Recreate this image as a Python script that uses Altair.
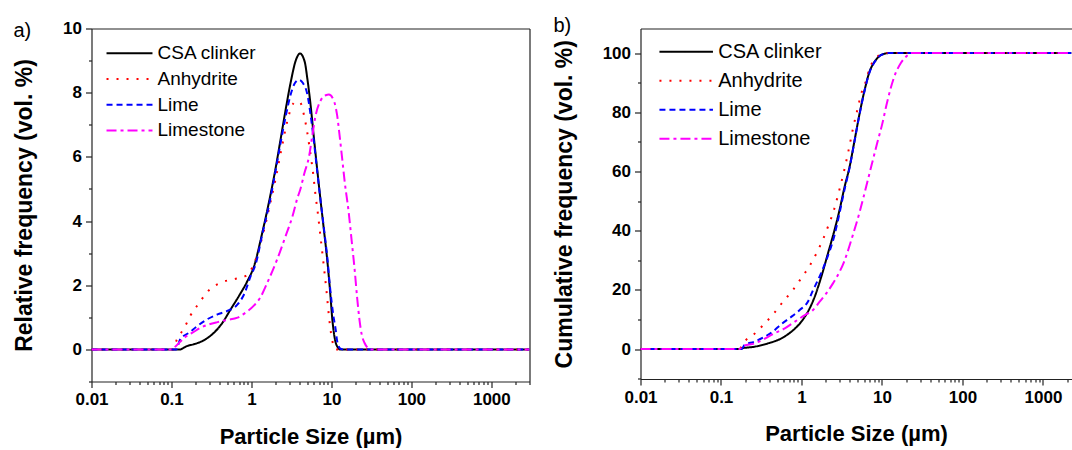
import altair as alt
import pandas as pd

FONT = "Liberation Sans"
AXIS_COLOR = "#222222"

series_names = ["CSA clinker", "Anhydrite", "Lime", "Limestone"]
series_colors = ["#000000", "#ff0000", "#0000ff", "#ff00ff"]
series_dashes = [[1, 0], [2, 8], [6, 4], [10, 4, 3, 4]]
panel_labels = ["a)", "b)"]

x_major = [0.01, 0.1, 1, 10, 100, 1000]

# ---------------- (a) relative frequency ----------------
rel_csa_size = [0.01, 0.13, 0.137, 0.155, 0.19, 0.256, 0.34, 0.434, 0.55, 0.70, 0.89, 1.08, 1.37, 1.66,
                2.0, 2.32, 2.69, 3.1, 3.58, 4.05, 4.64, 5.0, 5.5, 6.06, 6.68, 7.35, 8.08, 8.9, 9.6,
                10.3, 11.0, 12.1, 12.7, 3000]
rel_csa_val = [0, 0, 0.03, 0.1, 0.16, 0.29, 0.52, 0.83, 1.25, 1.67, 2.13, 2.6, 3.65, 4.6,
               5.63, 6.56, 7.5, 8.33, 9.0, 9.22, 8.96, 8.44, 7.6, 6.56, 5.55, 4.6, 3.7, 2.75, 1.85,
               0.9, 0.35, 0.05, 0, 0]

rel_anh_size = [0.01, 0.105, 0.116, 0.144, 0.174, 0.221, 0.28, 0.413, 0.606, 0.85, 1.1, 1.4, 1.7,
                2.0, 2.4, 2.82, 3.16, 3.6, 4.05, 4.54, 5.0, 5.5, 5.9, 6.3, 6.8, 7.2, 7.9, 8.7, 9.4,
                9.9, 10.5, 11.2, 3000]
rel_anh_val = [0, 0, 0.29, 0.66, 1.07, 1.44, 1.79, 2.08, 2.19, 2.29, 2.73, 3.6, 4.5,
               5.3, 6.3, 7.13, 7.55, 7.72, 7.7, 7.3, 6.75, 6.05, 5.5, 4.85, 4.2, 3.65, 2.76, 1.8, 0.94,
               0.5, 0.16, 0, 0]

rel_lime_size = [0.01, 0.115, 0.128, 0.166, 0.211, 0.28, 0.376, 0.5, 0.67, 0.81, 0.98, 1.13, 1.37,
                 1.66, 2.0, 2.32, 2.7, 3.1, 3.5, 3.94, 4.4, 5.0, 5.5, 6.06, 6.68, 7.35, 8.08, 8.9,
                 9.6, 10.6, 11.3, 11.8, 13.0, 14.0, 3000]
rel_lime_val = [0, 0, 0.31, 0.52, 0.73, 0.94, 1.09, 1.2, 1.4, 1.72, 2.29, 2.66, 3.6,
                4.5, 5.55, 6.45, 7.3, 7.95, 8.3, 8.4, 8.3, 7.95, 7.3, 6.45, 5.5, 4.6, 3.75, 2.85,
                1.95, 1.04, 0.62, 0.26, 0.02, 0, 0]

rel_lst_size = [0.01, 0.1, 0.113, 0.144, 0.183, 0.233, 0.296, 0.376, 0.5, 0.67, 0.85, 1.08, 1.28,
                1.58, 2.1, 2.68, 3.28, 3.73, 4.1, 4.6, 5.24, 5.8, 6.3, 7.35, 8.5, 9.3, 10.7, 11.8,
                12.8, 13.7, 14.7, 16.4, 17.9, 19.5, 21.0, 22.5, 24.0, 26.0, 29.0, 31.0, 3000]
rel_lst_val = [0, 0, 0.1, 0.36, 0.52, 0.68, 0.78, 0.85, 0.92, 0.99, 1.15, 1.37, 1.6,
               2.08, 2.81, 3.54, 4.17, 4.69, 5.0, 5.5, 6.0, 6.7, 7.25, 7.76, 7.92, 7.94, 7.76, 7.29,
               6.56, 5.9, 5.2, 4.3, 3.4, 2.5, 1.6, 0.9, 0.45, 0.2, 0.03, 0, 0]

# ---------------- (b) cumulative frequency ----------------
cum_csa_size = [0.01, 0.17, 0.179, 0.26, 0.38, 0.56, 0.75, 0.99, 1.2, 1.46, 1.76, 2.13, 2.57, 2.97,
                3.43, 3.96, 4.57, 5.27, 6.08, 7.0, 8.1, 9.33, 11.3, 12.0, 2260]
cum_csa_val = [0, 0, 0.2, 0.8, 1.9, 3.6, 5.9, 9.2, 12.6, 17.7, 24.4, 32.3, 40.2, 47,
               54.8, 61.6, 70.6, 79.6, 87.5, 93.7, 97.1, 99.0, 99.9, 100, 100]

cum_anh_size = [0.01, 0.17, 0.187, 0.257, 0.342, 0.456, 0.589, 0.78, 0.99, 1.26, 1.57, 1.85, 2.17,
                2.53, 2.84, 3.3, 3.85, 4.4, 4.93, 5.54, 6.38, 7.0, 8.4, 10.0, 11.0, 2260]
cum_anh_val = [0, 0, 1.9, 5.0, 8.4, 12.1, 16, 19.9, 23.9, 28.1, 32.9, 37.1, 41.9,
               47, 52, 59, 67.2, 75, 80.7, 86.4, 90.9, 94.8, 98.2, 99.8, 100, 100]

cum_lime_size = [0.01, 0.18, 0.196, 0.26, 0.35, 0.44, 0.56, 0.73, 0.95, 1.2, 1.39, 1.6, 2.03, 2.57,
                 2.97, 3.43, 3.96, 4.57, 5.27, 6.08, 7.0, 8.1, 9.33, 11.3, 12.0, 2260]
cum_lime_val = [0, 0, 1.35, 2.5, 4.2, 5.9, 8.4, 10.7, 13.2, 16, 19.9, 23.3, 30, 38.5,
                46, 54, 61.3, 70.4, 79.4, 87.3, 93.5, 97, 99, 99.9, 100, 100]

cum_lst_size = [0.01, 0.17, 0.187, 0.26, 0.46, 0.62, 0.82, 1.1, 1.39, 1.68, 2.03, 2.46, 2.97, 3.38,
                4.34, 5.3, 5.98, 7.4, 8.7, 10.06, 11.6, 14.2, 17.3, 21.1, 23.0, 2260]
cum_lst_val = [0, 0, 1.0, 1.9, 5.3, 7.0, 9.2, 11.5, 13.2, 16, 18.8, 22.2, 26.1, 29.5,
               38.5, 46.5, 52, 62, 69.5, 76, 83.5, 92, 96.8, 99.4, 100, 100]


def build(sizes, values):
    rows = []
    for name, xs, ys in zip(series_names, sizes, values):
        for x, y in zip(xs, ys):
            rows.append({"series": name, "size": x, "value": y})
    return pd.DataFrame(rows)


rel_df = build([rel_csa_size, rel_anh_size, rel_lime_size, rel_lst_size],
               [rel_csa_val, rel_anh_val, rel_lime_val, rel_lst_val])
cum_df = build([cum_csa_size, cum_anh_size, cum_lime_size, cum_lst_size],
               [cum_csa_val, cum_anh_val, cum_lime_val, cum_lst_val])


def log_ticks(max_val):
    vals = []
    for k in range(-2, 4):
        for m in range(1, 10):
            v = round(m * 10 ** k, 6)
            if v <= max_val:
                vals.append(v)
    return vals


major_expr = str(x_major)


def x_axis(xmax):
    return alt.Axis(
        values=log_ticks(xmax), format="~g",
        labelExpr=f"indexof({major_expr}, datum.value) >= 0 ? datum.label : ''",
        tickSize={"condition": {"test": f"indexof({major_expr}, datum.value) < 0", "value": 3}, "value": 6},
        labelOverlap=False, labelFlush=False, grid=False,
        title="Particle Size (µm)", titlePadding=18.5, labelPadding=4, titleFontSize=22,
    )


def y_axis(title, vals, label_test, minor_test):
    return alt.Axis(
        values=vals,
        labelExpr=f"{label_test} ? datum.label : ''",
        tickSize={"condition": {"test": minor_test, "value": 3}, "value": 6},
        labelOverlap=False, labelFlush=False, grid=False,
        title=title, titlePadding=26, labelPadding=4,
    )


def legend(lx, ly, size, fs, offset, rowpad):
    return alt.Legend(
        orient="none", legendX=lx, legendY=ly, title=None, padding=0,
        symbolType="M-4,0H4", symbolSize=size, symbolStrokeWidth=2,
        labelFont=FONT, labelFontSize=fs, labelFontWeight="normal", labelColor="black",
        labelOffset=offset, rowPadding=rowpad, labelLimit=0,
    )


def panel(df, xmax, ydom, width, height, ytitle, yvals, label_test, minor_test, leg, label, label_dx, label_dy, right_frame):
    xs = alt.Scale(type="log", domain=[0.01, xmax], nice=False)
    ys = alt.Scale(domain=ydom, nice=False, zero=False)
    lines = alt.Chart(df).mark_line(strokeWidth=2, interpolate="monotone", clip=True).encode(
        x=alt.X("size:Q", scale=xs, axis=x_axis(xmax)),
        y=alt.Y("value:Q", scale=ys, axis=y_axis(ytitle, yvals, label_test, minor_test)),
        color=alt.Color("series:N", scale=alt.Scale(domain=series_names, range=series_colors), legend=leg),
        strokeDash=alt.StrokeDash("series:N", scale=alt.Scale(domain=series_names, range=series_dashes), legend=leg),
    )
    frame_enc = {
        "x": alt.X("size:Q", scale=xs, axis=alt.Axis(orient="top", labels=False, ticks=False, title=None, grid=False)),
    }
    if right_frame:
        frame_enc["y"] = alt.Y("value:Q", scale=ys, axis=alt.Axis(orient="right", labels=False, ticks=False, title=None, grid=False))
    frame = alt.Chart(df).mark_line(opacity=0).encode(**frame_enc)
    txt = alt.Chart(pd.DataFrame({"panel": [label]})).mark_text(
        align="left", baseline="middle", font=FONT, fontSize=20, color="black"
    ).encode(text="panel:N", x=alt.value(label_dx), y=alt.value(label_dy))
    layer = alt.layer(lines, frame, txt).resolve_axis(x="independent", y="independent" if right_frame else "shared")
    return layer.properties(width=width, height=height)


left = panel(rel_df, 3000, [-1, 10], 438, 353, "Relative frequency (vol. %)", list(range(-1, 11)),
             "datum.value >= 0 && datum.value % 2 == 0", "datum.value % 2 != 0",
             legend(28.5, 15.3, 132, 19, 18.5, 5.7), panel_labels[0], -78, 2, True)

right = panel(cum_df, 2260, [-10.1, 108.3], 431, 350.5, "Cumulative frequency (vol. %)", list(range(-10, 101, 10)),
              "datum.value >= 0 && datum.value <= 100 && datum.value % 20 == 0", "datum.value % 20 != 0",
              legend(35.7, 13.2, 179, 20, 22, 9), panel_labels[1], -87, -3, False)

chart = alt.hconcat(left, right, spacing=22).resolve_scale(
    color="independent", strokeDash="independent"
).resolve_legend(color="independent", strokeDash="independent").properties(
    padding={"left": 13.5, "top": 15.5, "right": 0, "bottom": 0}
).configure(font=FONT).configure_view(stroke=None).configure_axis(
    domainColor=AXIS_COLOR, domainWidth=1.2, tickColor=AXIS_COLOR, tickWidth=1.2,
    labelFont=FONT, labelFontSize=17, labelFontWeight="bold", labelColor="black",
    titleFont=FONT, titleFontSize=23, titleFontWeight="bold", titleColor="black",
)

chart.save("out.html", embed_options={"renderer": "svg", "actions": False})
